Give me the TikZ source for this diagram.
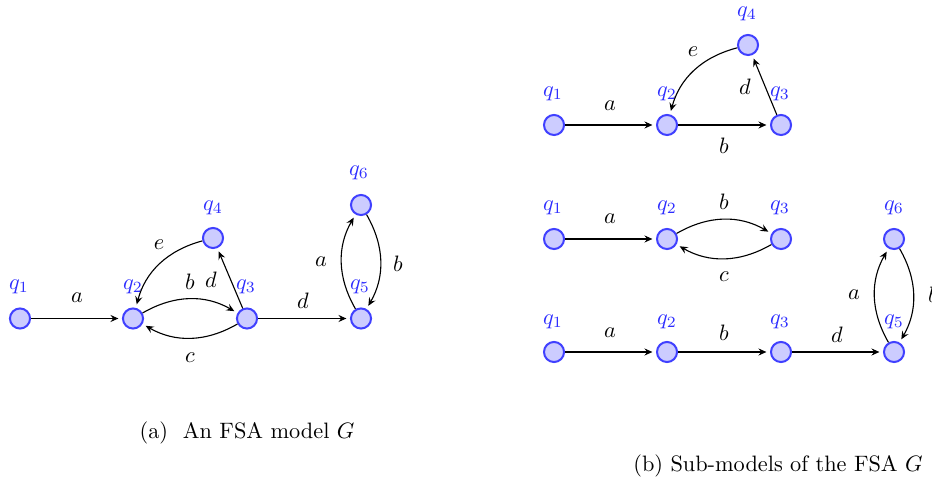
\documentclass[tikz,border=0pt]{standalone}
\usetikzlibrary{arrows.meta}
\definecolor{stfill}{RGB}{204,204,255}
\definecolor{stdraw}{RGB}{64,64,255}
\definecolor{stlbl}{RGB}{45,45,255}
\begin{document}
\begin{tikzpicture}[x=0.4484pt,y=0.4484pt,
  state/.style={circle,draw=stdraw,fill=stfill,line width=0.9pt,minimum size=9pt,inner sep=0pt},
  slbl/.style={text=stlbl,inner sep=0pt},
  elbl/.style={inner sep=0pt},
  tr/.style={-{Stealth[length=3.6pt,width=3.2pt,inset=1.3pt]},line width=0.5pt,shorten >=1.6pt},
  capt/.style={inner sep=0pt}]
\useasboundingbox (0,0) rectangle (932,478);
% ---------- (a) ----------
\node[state] (a1) at (20,159.5) {};
\node[state] (a2) at (133,159.5) {};
\node[state] (a3) at (247,159.5) {};
\node[state] (a4) at (213,240) {};
\node[state] (a5) at (361,159.5) {};
\node[state] (a6) at (361,273) {};
\node[slbl] (la1) at (19,191) {$q_1$};
\node[slbl] (la2) at (133,191) {$q_2$};
\node[slbl] (la3) at (246,191) {$q_3$};
\node[slbl] (la4) at (213,270) {$q_4$};
\node[slbl] (la5) at (360,191) {$q_5$};
\node[slbl] (la6) at (359,305) {$q_6$};
\draw[tr] (a1) -- (a2);
\draw[tr] (a2) to[bend left=30] (a3);
\draw[tr] (a3) to[bend left=30] (a2);
\draw[tr] (a3) -- (a4);
\draw[tr] (a4) to[bend right=30] (a2);
\draw[tr] (a3) -- (a5);
\draw[tr] (a5) to[bend left=30] (a6);
\draw[tr] (a6) to[bend left=30] (a5);
\node[elbl] (ea1) at (77,180) {$a$};
\node[elbl] (eb1) at (190,196) {$b$};
\node[elbl] (ed1) at (211,198) {$d$};
\node[elbl] (ee1) at (159,233) {$e$};
\node[elbl] (ec1) at (190,120) {$c$};
\node[elbl] (ed2) at (303,177) {$d$};
\node[elbl] (ea2) at (321,216) {$a$};
\node[elbl] (eb2) at (398,214) {$b$};
\node[capt] (capa) at (247,45) {(a)\ \ An FSA model $G$};
% ---------- (b) top ----------
\node[state] (t1) at (554,353) {};
\node[state] (t2) at (667,353) {};
\node[state] (t3) at (781,353) {};
\node[state] (t4) at (748,433) {};
\node[slbl] (lt1) at (553,384) {$q_1$};
\node[slbl] (lt2) at (667,384) {$q_2$};
\node[slbl] (lt3) at (780,384) {$q_3$};
\node[slbl] (lt4) at (747,464) {$q_4$};
\draw[tr] (t1) -- (t2);
\draw[tr] (t2) -- (t3);
\draw[tr] (t3) -- (t4);
\draw[tr] (t4) to[bend right=30] (t2);
\node[elbl] (eta) at (610,372) {$a$};
\node[elbl] (etb) at (724,332) {$b$};
\node[elbl] (etd) at (745,391) {$d$};
\node[elbl] (ete) at (693,426) {$e$};
% ---------- (b) middle ----------
\node[state] (m1) at (554,239) {};
\node[state] (m2) at (667,239) {};
\node[state] (m3) at (781,239) {};
\node[state] (m6) at (894,239) {};
\node[slbl] (lm1) at (553,270) {$q_1$};
\node[slbl] (lm2) at (667,270) {$q_2$};
\node[slbl] (lm3) at (780,270) {$q_3$};
\node[slbl] (lm6) at (894,270) {$q_6$};
\draw[tr] (m1) -- (m2);
\draw[tr] (m2) to[bend left=30] (m3);
\draw[tr] (m3) to[bend left=30] (m2);
\node[elbl] (ema) at (610,259) {$a$};
\node[elbl] (emb) at (724,276) {$b$};
\node[elbl] (emc) at (724,201) {$c$};
% ---------- (b) bottom ----------
\node[state] (b1) at (554,126) {};
\node[state] (b2) at (667,126) {};
\node[state] (b3) at (781,126) {};
\node[state] (b5) at (894,126) {};
\node[slbl] (lb1) at (553,156) {$q_1$};
\node[slbl] (lb2) at (667,156) {$q_2$};
\node[slbl] (lb3) at (780,156) {$q_3$};
\node[slbl] (lb5) at (894,156) {$q_5$};
\draw[tr] (b1) -- (b2);
\draw[tr] (b2) -- (b3);
\draw[tr] (b3) -- (b5);
\draw[tr] (b5) to[bend left=30] (m6);
\draw[tr] (m6) to[bend left=30] (b5);
\node[elbl] (eba) at (610,145) {$a$};
\node[elbl] (ebb) at (724,145) {$b$};
\node[elbl] (ebd) at (837,143) {$d$};
\node[elbl] (eba2) at (854,183) {$a$};
\node[elbl] (ebb2) at (933,183) {$b$};
\node[capt] (capb) at (778,12) {(b) Sub-models of the FSA $G$};
\end{tikzpicture}
\end{document}
